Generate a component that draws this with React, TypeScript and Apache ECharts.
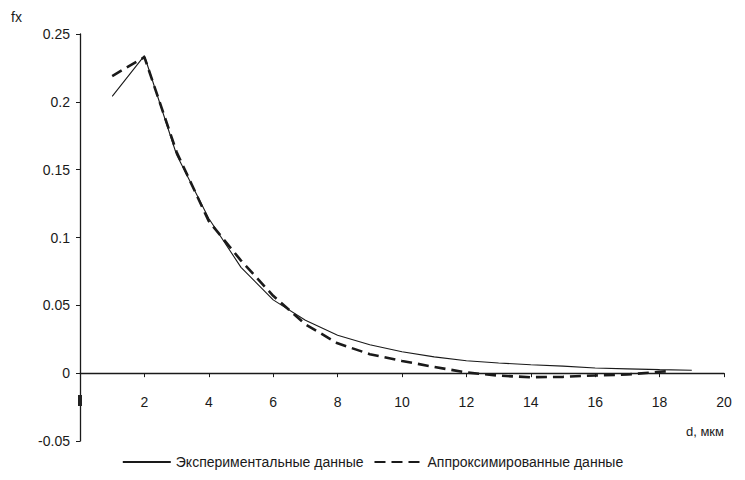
import React, { useEffect, useRef } from "react";
import * as echarts from "echarts";

const xValues = [1, 2, 3, 4, 5, 6, 7, 8, 9, 10, 11, 12, 13, 14, 15, 16, 17, 18, 19];
const experimental = [0.204, 0.234, 0.161, 0.114, 0.078, 0.054, 0.039, 0.028, 0.021, 0.0158, 0.012, 0.0092, 0.0075, 0.0062, 0.0052, 0.0038, 0.0032, 0.0026, 0.0022];
const approxX = [1, 2, 3, 4, 5, 6, 7, 8, 9, 10, 11, 12, 13, 14, 15, 16, 17, 18, 18.3];
const approximated = [0.219, 0.233, 0.163, 0.112, 0.083, 0.057, 0.036, 0.022, 0.014, 0.009, 0.0046, 0.0005, -0.0018, -0.003, -0.0027, -0.0017, -0.001, 0.001, 0.0015];

const seriesNames = ["Экспериментальные данные", "Аппроксимированные данные"];
const xAxisName = "d, мкм";
const yAxisName = "fx";

const FONT = "'Liberation Sans', Arial, sans-serif";
const INK = "#1a1a1a";

export default function App() {
  const ref = useRef<HTMLDivElement>(null);
  useEffect(() => {
    if (!ref.current) return;
    const chart = echarts.init(ref.current, null, { renderer: "svg" });
    chart.setOption({
      animation: false,
      backgroundColor: "#ffffff",
      textStyle: { fontFamily: FONT, color: INK },
      grid: { left: 80, right: 21, top: 34, bottom: 39, containLabel: false },
      legend: {
        bottom: 6,
        left: "center",
        itemWidth: 48,
        itemHeight: 10,
        itemGap: 10,
        itemStyle: { opacity: 0 },
        textStyle: { fontFamily: FONT, fontSize: 14, color: INK },
        data: [seriesNames[0], seriesNames[1]],
      },
      xAxis: {
        type: "value",
        min: 0,
        max: 20,
        interval: 2,
        name: xAxisName,
        nameLocation: "end",
        nameGap: 0,
        nameTextStyle: {
          fontFamily: FONT,
          fontSize: 13,
          color: INK,
          align: "right",
          verticalAlign: "top",
          padding: [52, 0, 0, 0],
        },
        axisLine: { onZero: true, lineStyle: { color: INK, width: 1.3 } },
        axisTick: { show: true, inside: false, length: 4, lineStyle: { color: INK } },
        splitLine: { show: false },
        axisLabel: {
          margin: -46,
          fontFamily: FONT,
          fontSize: 14,
          color: INK,
          formatter: (v: number) => (v === 0 ? "{sq| }" : String(v)),
          rich: {
            sq: { backgroundColor: "#222", width: 4, height: 11, padding: 0 },
          },
        },
      },
      yAxis: {
        type: "value",
        min: -0.05,
        max: 0.25,
        interval: 0.05,
        name: yAxisName,
        nameLocation: "end",
        nameGap: 10,
        nameTextStyle: {
          fontFamily: FONT,
          fontSize: 14,
          color: INK,
          align: "right",
          padding: [0, 58, 0, 0],
        },
        axisLine: { show: true, onZero: false, lineStyle: { color: INK, width: 1.3 } },
        axisTick: { show: true, inside: false, length: 4, lineStyle: { color: INK } },
        splitLine: { show: false },
        axisLabel: {
          margin: 10,
          fontFamily: FONT,
          fontSize: 14,
          color: INK,
          formatter: (v: number) => String(Math.round(v * 100) / 100),
        },
      },
      series: [
        {
          name: seriesNames[0],
          type: "line",
          data: xValues.map((x, i) => [x, experimental[i]]),
          showSymbol: false,
          symbol: "none",
          smooth: false,
          lineStyle: { color: INK, width: 1.1, type: "solid" },
          itemStyle: { color: INK },
        },
        {
          name: seriesNames[1],
          type: "line",
          data: approxX.map((x, i) => [x, approximated[i]]),
          showSymbol: false,
          symbol: "none",
          smooth: false,
          lineStyle: { color: INK, width: 2.6, type: [11, 6] },
          itemStyle: { color: INK },
        },
      ],
    });
    return () => chart.dispose();
  }, []);
  return <div ref={ref} style={{ width: 745, height: 480, margin: -8 }} />;
}
